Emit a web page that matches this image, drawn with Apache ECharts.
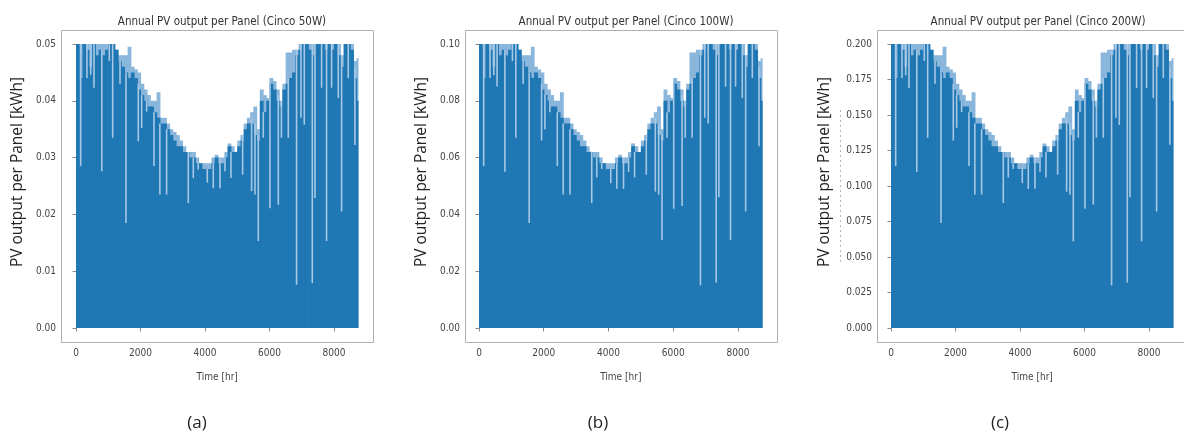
<!DOCTYPE html>
<html>
<head>
<meta charset="utf-8">
<script src="https://cdn.jsdelivr.net/npm/echarts@6/dist/echarts.min.js"></script>
<style>
html,body{margin:0;padding:0;background:#fff;}
#chart{width:1184px;height:433px;}
</style>
</head>
<body>
<div id="chart"></div>
<script>
// ---- data ----
const HOUR_STEP = 100;          // sampling grid of the envelopes (hours)
const YEAR_HOURS = 8760;
const xTicks = [0, 2000, 4000, 6000, 8000];
const titles = ['Annual PV output per Panel (Cinco 50W)', 'Annual PV output per Panel (Cinco 100W)', 'Annual PV output per Panel (Cinco 200W)'];
const captions = ['(a)', '(b)', '(c)'];
const yTicksA = [0, 0.01, 0.02, 0.03, 0.04, 0.05];
const yTicksB = [0, 0.02, 0.04, 0.06, 0.08, 0.10];
const yTicksC = [0, 0.025, 0.05, 0.075, 0.1, 0.125, 0.15, 0.175, 0.2];

// typical (solid) daily peak envelope, every 100 h
const darkA = [0.050,0.044,0.050,0.049,0.046,0.050,0.048,0.049,0.048,0.049,
0.050,0.050,0.049,0.047,0.046,0.045,0.044,0.045,0.044,0.042,
0.041,0.040,0.039,0.039,0.038,0.037,0.036,0.036,0.035,0.034,
0.033,0.032,0.032,0.031,0.031,0.030,0.030,0.029,0.029,0.028,
0.028,0.028,0.029,0.030,0.029,0.029,0.030,0.032,0.031,0.031,
0.032,0.033,0.035,0.036,0.036,0.034,0.033,0.040,0.038,0.040,
0.043,0.042,0.040,0.039,0.042,0.043,0.044,0.045,0.048,0.049,
0.050,0.050,0.049,0.048,0.050,0.050,0.050,0.049,0.050,0.049,
0.050,0.048,0.046,0.050,0.050,0.049,0.044,0.040];
// highest single-day peaks (light streaks), every 100 h
const lightA = [0.050,0.050,0.050,0.050,0.050,0.050,0.050,0.050,0.050,0.050,
0.050,0.050,0.049,0.048,0.048,0.048,0.0495,0.046,0.0455,0.045,
0.043,0.042,0.041,0.040,0.040,0.0415,0.037,0.037,0.036,0.035,
0.0345,0.034,0.033,0.032,0.031,0.031,0.031,0.030,0.029,0.029,
0.029,0.029,0.030,0.0305,0.030,0.030,0.031,0.0325,0.032,0.031,
0.033,0.034,0.036,0.037,0.038,0.039,0.035,0.042,0.041,0.0405,
0.044,0.0435,0.042,0.040,0.043,0.0485,0.0485,0.049,0.049,0.050,
0.050,0.050,0.050,0.050,0.050,0.050,0.050,0.050,0.050,0.050,
0.050,0.050,0.048,0.050,0.050,0.050,0.047,0.0475];
// cloudy-day dips: [hour, low, high]
const dipsA = [[145,0.0285,0.050],[340,0.044,0.050],[456,0.0446,0.050],[558,0.0423,0.050],[800,0.0276,0.049],[1033,0.047,0.050],[1137,0.0335,0.050],[1364,0.043,0.047],[1550,0.0185,0.045],[1932,0.0329,0.043],[2036,0.0352,0.041],[2190,0.0381,0.040],[2418,0.0285,0.038],[2600,0.0235,0.036],[2810,0.0235,0.035],[3482,0.022,0.031],[3637,0.0264,0.030],[3790,0.0279,0.029],[4071,0.0256,0.028],[4257,0.0246,0.029],[4464,0.0246,0.030],[4620,0.0276,0.030],[4805,0.0264,0.031],[5167,0.027,0.034],[5446,0.0241,0.037],[5550,0.0235,0.036],[5653,0.0153,0.034],[5808,0.0335,0.038],[6014,0.0211,0.043],[6273,0.0217,0.041],[6370,0.0335,0.040],[6583,0.0335,0.044],[6840,0.0076,0.049],[6975,0.037,0.050],[7079,0.0358,0.050],[7327,0.0079,0.050],[7410,0.0229,0.050],[7616,0.0423,0.050],[7770,0.0153,0.050],[7925,0.0423,0.050],[8133,0.0405,0.050],[8236,0.0205,0.048],[8443,0.044,0.050],[8649,0.0322,0.046]];

const darkB = [0.100,0.088,0.100,0.098,0.092,0.100,0.096,0.098,0.096,0.098,
0.100,0.100,0.098,0.094,0.092,0.090,0.088,0.090,0.088,0.084,
0.082,0.080,0.078,0.078,0.076,0.074,0.072,0.072,0.070,0.068,
0.066,0.064,0.064,0.062,0.062,0.060,0.060,0.058,0.058,0.056,
0.056,0.056,0.058,0.060,0.058,0.058,0.060,0.064,0.062,0.062,
0.064,0.066,0.070,0.072,0.072,0.068,0.066,0.080,0.076,0.080,
0.086,0.084,0.080,0.078,0.084,0.086,0.088,0.090,0.096,0.098,
0.100,0.100,0.098,0.096,0.100,0.100,0.100,0.098,0.100,0.098,
0.100,0.096,0.092,0.100,0.100,0.098,0.088,0.080];
const lightB = [0.100,0.100,0.100,0.100,0.100,0.100,0.100,0.100,0.100,0.100,
0.100,0.100,0.098,0.096,0.096,0.096,0.099,0.092,0.091,0.090,
0.086,0.084,0.082,0.080,0.080,0.083,0.074,0.074,0.072,0.070,
0.069,0.068,0.066,0.064,0.062,0.062,0.062,0.060,0.058,0.058,
0.058,0.058,0.060,0.061,0.060,0.060,0.062,0.065,0.064,0.062,
0.066,0.068,0.072,0.074,0.076,0.078,0.070,0.084,0.082,0.081,
0.088,0.087,0.084,0.080,0.086,0.097,0.097,0.098,0.098,0.100,
0.100,0.100,0.100,0.100,0.100,0.100,0.100,0.100,0.100,0.100,
0.100,0.100,0.096,0.100,0.100,0.100,0.094,0.095];
const dipsB = [[145,0.057,0.100],[340,0.088,0.100],[456,0.089,0.100],[558,0.085,0.100],[800,0.055,0.098],[1033,0.094,0.100],[1137,0.067,0.100],[1364,0.086,0.094],[1550,0.037,0.090],[1932,0.066,0.086],[2036,0.070,0.082],[2190,0.076,0.080],[2418,0.057,0.076],[2600,0.047,0.072],[2810,0.047,0.070],[3482,0.044,0.062],[3637,0.053,0.060],[3790,0.056,0.058],[4071,0.051,0.056],[4257,0.049,0.058],[4464,0.049,0.060],[4620,0.055,0.060],[4805,0.053,0.062],[5167,0.054,0.068],[5446,0.048,0.074],[5550,0.047,0.072],[5653,0.031,0.068],[5808,0.067,0.076],[6014,0.042,0.086],[6273,0.043,0.082],[6370,0.067,0.080],[6583,0.067,0.088],[6840,0.015,0.098],[6975,0.074,0.100],[7079,0.072,0.100],[7327,0.016,0.100],[7410,0.046,0.100],[7616,0.085,0.100],[7770,0.031,0.100],[7925,0.085,0.100],[8133,0.081,0.100],[8236,0.041,0.096],[8443,0.088,0.100],[8649,0.064,0.092]];

const darkC = [0.200,0.176,0.200,0.196,0.184,0.200,0.192,0.196,0.192,0.196,
0.200,0.200,0.196,0.188,0.184,0.180,0.176,0.180,0.176,0.168,
0.164,0.160,0.156,0.156,0.152,0.148,0.144,0.144,0.140,0.136,
0.132,0.128,0.128,0.124,0.124,0.120,0.120,0.116,0.116,0.112,
0.112,0.112,0.116,0.120,0.116,0.116,0.120,0.128,0.124,0.124,
0.128,0.132,0.140,0.144,0.144,0.136,0.132,0.160,0.152,0.160,
0.172,0.168,0.160,0.156,0.168,0.172,0.176,0.180,0.192,0.196,
0.200,0.200,0.196,0.192,0.200,0.200,0.200,0.196,0.200,0.196,
0.200,0.192,0.184,0.200,0.200,0.196,0.176,0.160];
const lightC = [0.200,0.200,0.200,0.200,0.200,0.200,0.200,0.200,0.200,0.200,
0.200,0.200,0.196,0.192,0.192,0.192,0.198,0.184,0.182,0.180,
0.172,0.168,0.164,0.160,0.160,0.166,0.148,0.148,0.144,0.140,
0.138,0.136,0.132,0.128,0.124,0.124,0.124,0.120,0.116,0.116,
0.116,0.116,0.120,0.122,0.120,0.120,0.124,0.130,0.128,0.124,
0.132,0.136,0.144,0.148,0.152,0.156,0.140,0.168,0.164,0.162,
0.176,0.174,0.168,0.160,0.172,0.194,0.194,0.196,0.196,0.200,
0.200,0.200,0.200,0.200,0.200,0.200,0.200,0.200,0.200,0.200,
0.200,0.200,0.192,0.200,0.200,0.200,0.188,0.190];
const dipsC = [[145,0.114,0.200],[340,0.176,0.200],[456,0.178,0.200],[558,0.169,0.200],[800,0.110,0.196],[1033,0.188,0.200],[1137,0.134,0.200],[1364,0.172,0.188],[1550,0.074,0.180],[1932,0.132,0.172],[2036,0.141,0.164],[2190,0.152,0.160],[2418,0.114,0.152],[2600,0.094,0.144],[2810,0.094,0.140],[3482,0.088,0.124],[3637,0.106,0.120],[3790,0.112,0.116],[4071,0.102,0.112],[4257,0.098,0.116],[4464,0.098,0.120],[4620,0.110,0.120],[4805,0.106,0.124],[5167,0.108,0.136],[5446,0.096,0.148],[5550,0.094,0.144],[5653,0.061,0.136],[5808,0.134,0.152],[6014,0.084,0.172],[6273,0.087,0.164],[6370,0.134,0.160],[6583,0.134,0.176],[6840,0.030,0.196],[6975,0.148,0.200],[7079,0.143,0.200],[7327,0.032,0.200],[7410,0.092,0.200],[7616,0.169,0.200],[7770,0.061,0.200],[7925,0.169,0.200],[8133,0.162,0.200],[8236,0.082,0.192],[8443,0.176,0.200],[8649,0.129,0.184]];

// ---- layout / style ----
const DARK = '#1f77b4', LIGHT = '#8ab6dc', DIP = '#a6c8e5';
const TICK_FONT = "'DejaVu Sans Condensed','Liberation Sans Narrow','DejaVu Sans',sans-serif";
const panels = [
  {frameLeft:61, dataLeft:76, dataWidth:282.5, yMax:0.05, yTicks:yTicksA, dec:2, dark:darkA, light:lightA, dips:dipsA, yLabelX:18, capX:197},
  {frameLeft:465, dataLeft:479, dataWidth:283.6, yMax:0.10, yTicks:yTicksB, dec:2, dark:darkB, light:lightB, dips:dipsB, yLabelX:422, capX:598},
  {frameLeft:877, dataLeft:891, dataWidth:282.5, yMax:0.20, yTicks:yTicksC, dec:3, dark:darkC, light:lightC, dips:dipsC, yLabelX:825, capX:1000}
];
const FRAME_TOP = 30, FRAME_H = 312, FRAME_W = 312;
const DATA_TOP = 44, DATA_H = 284;

// each sample holds its value from its hour to the next sample (last one to year end)
function toSteps(arr){
  return arr.map((v,i)=>[i*HOUR_STEP, i === arr.length-1 ? YEAR_HOURS : (i+1)*HOUR_STEP, v]);
}
function stepRenderer(color){
  return (params, api)=>{
    const tl = api.coord([api.value(0), api.value(2)]);
    const br = api.coord([api.value(1), 0]);
    const last = api.value(1) >= YEAR_HOURS;
    return {type:'rect', shape:{x:tl[0], y:tl[1], width:br[0]-tl[0] + (last ? 0 : 0.6), height:br[1]-tl[1]},
            style:{fill:color}};
  };
}

const grid = [], xAxis = [], yAxis = [], series = [], title = [], graphic = [];
panels.forEach((p, k) => {
  grid.push({left:p.dataLeft, top:DATA_TOP, width:p.dataWidth, height:DATA_H, containLabel:false});
  xAxis.push({
    type:'value', gridIndex:k, min:0, max:YEAR_HOURS, interval:2000, offset:14,
    axisLine:{show:false}, splitLine:{show:false},
    axisTick:{show:true, length:3.5, customValues:xTicks, lineStyle:{color:'#888', width:1}},
    axisLabel:{customValues:xTicks, margin:6, fontSize:10, fontFamily:TICK_FONT, color:'#444',
      formatter:(v)=>String(Math.round(v))},
    name:'Time [hr]', nameLocation:'middle', nameGap:30,
    nameTextStyle:{fontSize:10, fontFamily:TICK_FONT, color:'#444'}
  });
  yAxis.push({
    type:'value', gridIndex:k, min:0, max:p.yMax, offset:p.dataLeft - p.frameLeft,
    axisLine:{show:false}, splitLine:{show:false},
    axisTick:{show:true, length:3.5, customValues:p.yTicks, lineStyle:{color:'#888', width:1}},
    axisLabel:{customValues:p.yTicks, margin:5, fontSize:10, fontFamily:TICK_FONT, color:'#444',
      formatter:(v)=>Number(v).toFixed(p.dec)}
  });
  series.push({
    type:'custom', xAxisIndex:k, yAxisIndex:k, data:toSteps(p.light), z:1, silent:true, animation:false,
    encode:{x:[0,1], y:2}, renderItem:stepRenderer(LIGHT)
  });
  series.push({
    type:'custom', xAxisIndex:k, yAxisIndex:k, data:toSteps(p.dark), z:2, silent:true, animation:false,
    encode:{x:[0,1], y:2}, renderItem:stepRenderer(DARK)
  });
  series.push({
    type:'custom', xAxisIndex:k, yAxisIndex:k, data:p.dips, z:3, silent:true, animation:false,
    encode:{x:0, y:[1,2]},
    renderItem:(params, api)=>{
      const lo = api.coord([api.value(0), api.value(1)]);
      const hi = api.coord([api.value(0), api.value(2)]);
      return {type:'rect', shape:{x:lo[0]-0.8, y:hi[1], width:1.6, height:lo[1]-hi[1]}, style:{fill:DIP}};
    }
  });
  title.push({
    text:titles[k], left:p.frameLeft + FRAME_W/2, top:11, textAlign:'center',
    textStyle:{fontSize:11.5, fontWeight:'normal', fontFamily:TICK_FONT, color:'#333'}
  });
  graphic.push({
    type:'rect', shape:{x:p.frameLeft+0.5, y:FRAME_TOP+0.5, width:FRAME_W, height:FRAME_H},
    style:{fill:'none', stroke:'#b0b0b0', lineWidth:1}, z:10, silent:true
  });
  graphic.push({
    type:'text', x:p.yLabelX, y:172, rotation:Math.PI/2,
    style:{text:'PV output per Panel [kWh]', font:"15.5px 'Open Sans','DejaVu Sans',sans-serif", fill:'#222', align:'center', verticalAlign:'middle'}, silent:true
  });
  graphic.push({
    type:'text', x:p.capX, y:423,
    style:{text:captions[k], font:"17px 'Open Sans','DejaVu Sans',sans-serif", fill:'#222', align:'center', verticalAlign:'middle'}, silent:true
  });
});
// faint dotted artefact beside panel (c)'s y label
graphic.push({type:'line', shape:{x1:840.5, y1:110, x2:840.5, y2:263}, style:{stroke:'#b5b5b5', lineWidth:1, lineDash:[2,3]}, silent:true});

const chart = echarts.init(document.getElementById('chart'), null, {renderer:'canvas'});
chart.setOption({animation:false, backgroundColor:'#fff', title, grid, xAxis, yAxis, series, graphic});
</script>
</body>
</html>
